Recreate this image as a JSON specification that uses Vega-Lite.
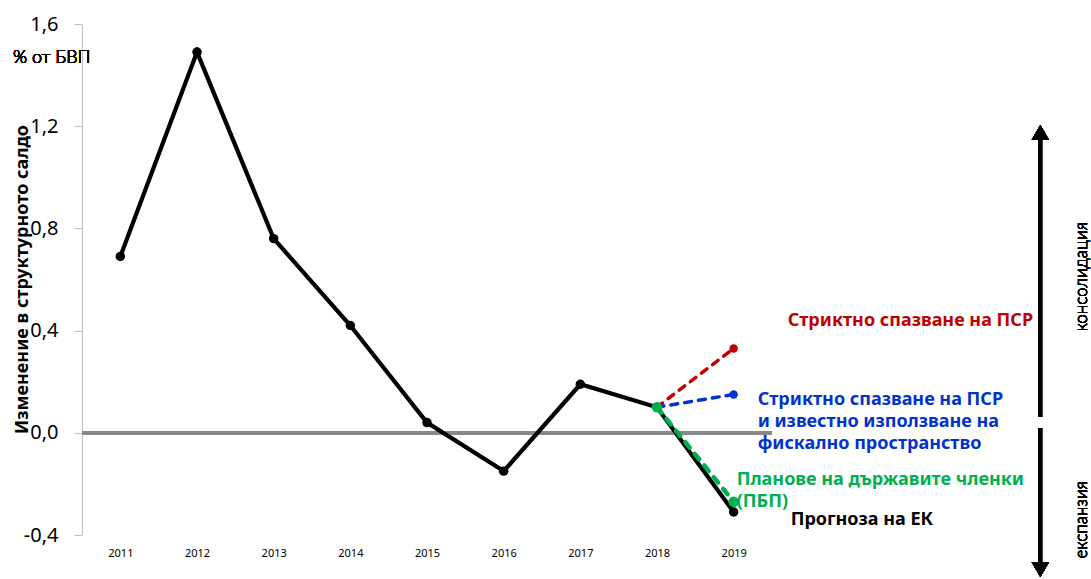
{
  "$schema": "https://vega.github.io/schema/vega-lite/v6.json",
  "width": 690,
  "height": 511,
  "autosize": {"type": "none"},
  "padding": {"left": 82, "top": 24, "right": 319, "bottom": 44},
  "background": "white",
  "config": {"font": "Noto Sans", "view": {"stroke": null}},
  "data": {
    "values": [
      {"year": 2011, "value": 0.69, "series": "ЕК"},
      {"year": 2012, "value": 1.49, "series": "ЕК"},
      {"year": 2013, "value": 0.76, "series": "ЕК"},
      {"year": 2014, "value": 0.42, "series": "ЕК"},
      {"year": 2015, "value": 0.04, "series": "ЕК"},
      {"year": 2016, "value": -0.15, "series": "ЕК"},
      {"year": 2017, "value": 0.19, "series": "ЕК"},
      {"year": 2018, "value": 0.10, "series": "ЕК"},
      {"year": 2019, "value": -0.31, "series": "ЕК"},
      {"year": 2018, "value": 0.10, "series": "ПСР"},
      {"year": 2019, "value": 0.33, "series": "ПСР"},
      {"year": 2018, "value": 0.10, "series": "ПСР+ФП"},
      {"year": 2019, "value": 0.15, "series": "ПСР+ФП"},
      {"year": 2018, "value": 0.10, "series": "ПБП"},
      {"year": 2019, "value": -0.27, "series": "ПБП"}
    ]
  },
  "layer": [
    {
      "mark": {"type": "rule", "color": "#898989", "strokeWidth": 3.5},
      "encoding": {"y": {"datum": 0, "type": "quantitative"}}
    },
    {
      "transform": [{"filter": "datum.series == 'ЕК'"}],
      "mark": {"type": "line", "color": "black", "strokeWidth": 4.2},
      "encoding": {
        "x": {
          "field": "year", "type": "quantitative",
          "scale": {"domain": [2010.5, 2019.5], "nice": false, "zero": false},
          "axis": {
            "values": [2011, 2012, 2013, 2014, 2015, 2016, 2017, 2018, 2019],
            "format": "d", "grid": false, "domain": false, "ticks": false,
            "labelPadding": 12, "labelFontSize": 11, "labelColor": "black",
            "title": null
          }
        },
        "y": {
          "field": "value", "type": "quantitative",
          "scale": {"domain": [-0.4, 1.6], "nice": false, "zero": false},
          "axis": {
            "values": [-0.4, 0, 0.4, 0.8, 1.2, 1.6],
            "labelExpr": "replace(replace(format(datum.value, '.1f'), '.', ','), '\u2212', '-')",
            "grid": false, "domainColor": "#bfbfbf", "tickColor": "#bfbfbf",
            "tickSize": 8, "labelPadding": 16, "labelFontSize": 20, "labelColor": "black",
            "title": "Изменение в структурното салдо",
            "titleFontSize": 18, "titleFontWeight": "bold", "titleColor": "black",
            "titleX": -51, "titleY": 255, "titleAngle": 270,
            "titleBaseline": "bottom", "titleAlign": "center"
          }
        }
      }
    },
    {
      "transform": [{"filter": "datum.series == 'ЕК'"}],
      "mark": {"type": "point", "filled": true, "color": "black", "size": 90, "opacity": 1},
      "encoding": {
        "x": {"field": "year", "type": "quantitative"},
        "y": {"field": "value", "type": "quantitative"}
      }
    },
    {
      "transform": [{"filter": "datum.series == 'ПСР'"}],
      "mark": {"type": "line", "color": "#c00000", "strokeWidth": 3.5, "strokeDash": [7, 7], "strokeCap": "round"},
      "encoding": {
        "x": {"field": "year", "type": "quantitative"},
        "y": {"field": "value", "type": "quantitative"}
      }
    },
    {
      "transform": [{"filter": "datum.series == 'ПСР' && datum.year == 2019"}],
      "mark": {"type": "point", "filled": true, "color": "#c00000", "size": 70, "opacity": 1},
      "encoding": {
        "x": {"field": "year", "type": "quantitative"},
        "y": {"field": "value", "type": "quantitative"}
      }
    },
    {
      "transform": [{"filter": "datum.series == 'ПСР+ФП'"}],
      "mark": {"type": "line", "color": "#0033cc", "strokeWidth": 3.5, "strokeDash": [7, 7], "strokeCap": "round"},
      "encoding": {
        "x": {"field": "year", "type": "quantitative"},
        "y": {"field": "value", "type": "quantitative"}
      }
    },
    {
      "transform": [{"filter": "datum.series == 'ПСР+ФП' && datum.year == 2019"}],
      "mark": {"type": "point", "filled": true, "color": "#0033cc", "size": 70, "opacity": 1},
      "encoding": {
        "x": {"field": "year", "type": "quantitative"},
        "y": {"field": "value", "type": "quantitative"}
      }
    },
    {
      "transform": [{"filter": "datum.series == 'ПБП'"}],
      "mark": {"type": "line", "color": "#00b050", "strokeWidth": 4.5, "strokeDash": [7, 8], "strokeCap": "round"},
      "encoding": {
        "x": {"field": "year", "type": "quantitative"},
        "y": {"field": "value", "type": "quantitative"}
      }
    },
    {
      "transform": [{"filter": "datum.series == 'ПБП'"}],
      "mark": {"type": "point", "filled": true, "color": "#00b050", "size": 115, "opacity": 1},
      "encoding": {
        "x": {"field": "year", "type": "quantitative"},
        "y": {"field": "value", "type": "quantitative"}
      }
    },
    {
      "transform": [{"filter": "datum.series == 'ПСР' && datum.year == 2019"}],
      "mark": {"type": "text", "text": "Стриктно спазване на ПСР", "color": "#c00000", "fontSize": 18, "fontWeight": "bold", "align": "left", "baseline": "middle", "dx": 54, "dy": -27},
      "encoding": {
        "x": {"field": "year", "type": "quantitative"},
        "y": {"field": "value", "type": "quantitative"}
      }
    },
    {
      "transform": [{"filter": "datum.series == 'ПСР+ФП' && datum.year == 2019"}],
      "mark": {"type": "text", "text": ["Стриктно спазване на ПСР", "и известно използване на", "фискално пространство"], "lineHeight": 22, "color": "#0033cc", "fontSize": 18, "fontWeight": "bold", "align": "left", "baseline": "middle", "dx": 24, "dy": 6},
      "encoding": {
        "x": {"field": "year", "type": "quantitative"},
        "y": {"field": "value", "type": "quantitative"}
      }
    },
    {
      "transform": [{"filter": "datum.series == 'ПБП' && datum.year == 2019"}],
      "mark": {"type": "text", "text": ["Планове на държавите членки", "(ПБП)"], "lineHeight": 22, "color": "#00b050", "fontSize": 18, "fontWeight": "bold", "align": "left", "baseline": "middle", "dx": 3, "dy": -22},
      "encoding": {
        "x": {"field": "year", "type": "quantitative"},
        "y": {"field": "value", "type": "quantitative"}
      }
    },
    {
      "transform": [{"filter": "datum.series == 'ЕК' && datum.year == 2019"}],
      "mark": {"type": "text", "text": "Прогноза на ЕК", "color": "black", "fontSize": 18, "fontWeight": "bold", "align": "left", "baseline": "middle", "dx": 57, "dy": 8},
      "encoding": {
        "x": {"field": "year", "type": "quantitative"},
        "y": {"field": "value", "type": "quantitative"}
      }
    },
    {
      "mark": {"type": "text", "text": "% от БВП", "font": "Lato", "fill": "black", "fontSize": 18, "fontWeight": 300, "align": "left", "baseline": "middle"},
      "encoding": {
        "x": {"datum": 2009.6, "type": "quantitative"},
        "y": {"datum": 1.467, "type": "quantitative"}
      }
    },
    {
      "mark": {"type": "rule", "color": "black", "strokeWidth": 3.5},
      "encoding": {
        "x": {"datum": 2023, "type": "quantitative"},
        "y": {"datum": 0.062, "type": "quantitative"},
        "y2": {"datum": 1.18}
      }
    },
    {
      "mark": {"type": "rule", "color": "black", "strokeWidth": 3.5},
      "encoding": {
        "x": {"datum": 2023, "type": "quantitative"},
        "y": {"datum": 0.019, "type": "quantitative"},
        "y2": {"datum": -0.54}
      }
    },
    {
      "mark": {"type": "point", "shape": "triangle-up", "filled": true, "color": "black", "size": 300, "opacity": 1},
      "encoding": {
        "x": {"datum": 2023, "type": "quantitative"},
        "y": {"datum": 1.175, "type": "quantitative"}
      }
    },
    {
      "mark": {"type": "point", "shape": "triangle-down", "filled": true, "color": "black", "size": 300, "opacity": 1},
      "encoding": {
        "x": {"datum": 2023, "type": "quantitative"},
        "y": {"datum": -0.535, "type": "quantitative"}
      }
    },
    {
      "mark": {"type": "text", "text": "консолидация", "font": "Lato", "fill": "black", "fontSize": 17, "fontWeight": 300, "angle": 270, "align": "center", "baseline": "middle"},
      "encoding": {
        "x": {"datum": 2023.54, "type": "quantitative"},
        "y": {"datum": 0.61, "type": "quantitative"}
      }
    },
    {
      "mark": {"type": "text", "text": "експанзия", "font": "Lato", "fill": "black", "fontSize": 17, "fontWeight": 300, "angle": 270, "align": "center", "baseline": "middle"},
      "encoding": {
        "x": {"datum": 2023.54, "type": "quantitative"},
        "y": {"datum": -0.341, "type": "quantitative"}
      }
    }
  ]
}
